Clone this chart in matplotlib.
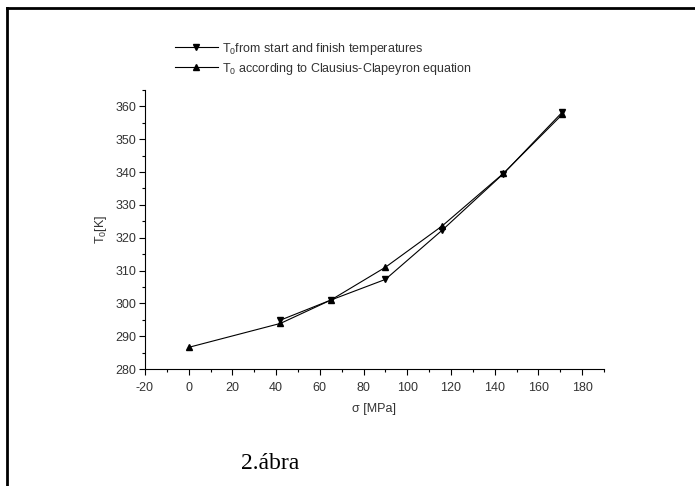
import matplotlib
matplotlib.use("Agg")
import matplotlib.pyplot as plt
from matplotlib.lines import Line2D
from matplotlib.ticker import MultipleLocator

# sigma [MPa] and T0 [K]
sigma_sf = [42, 65, 90, 116, 144, 171]
t0_sf = [294.9, 301.0, 307.3, 322.3, 339.5, 358.3]

sigma_cc = [0, 42, 65, 90, 116, 144, 171]
t0_cc = [286.6, 293.9, 301.0, 311.0, 323.6, 339.6, 357.6]

plt.rcParams['font.family'] = ['Liberation Sans', 'DejaVu Sans']
plt.rcParams['axes.unicode_minus'] = False
plt.rcParams['mathtext.default'] = 'regular'

fig = plt.figure(figsize=(6.95, 4.86), dpi=100)
ax = fig.add_axes([0.2086, 0.2407, 0.6604, 0.5741])

ax.plot(sigma_sf, t0_sf, color='black', lw=0.8, marker='v', ms=4.5,
        label=r'T$_0$from start and finish temperatures')
ax.plot(sigma_cc, t0_cc, color='black', lw=0.8, marker='^', ms=4.5,
        label=r'T$_0$ according to Clausius-Clapeyron equation')

ax.set_xlim(-20, 190)
ax.set_ylim(280, 365)
ax.xaxis.set_major_locator(MultipleLocator(20))
ax.xaxis.set_minor_locator(MultipleLocator(10))
ax.yaxis.set_major_locator(MultipleLocator(10))
ax.yaxis.set_minor_locator(MultipleLocator(5))

for s in ['top', 'right']:
    ax.spines[s].set_visible(False)
for s in ['left', 'bottom']:
    ax.spines[s].set_linewidth(0.8)

ax.tick_params(which='major', direction='out', length=4, width=0.8,
               labelsize=9, colors='black', labelcolor='#333333', pad=2.5)
ax.tick_params(axis='x', which='major', pad=5)
ax.tick_params(which='minor', direction='out', length=2.5, width=0.8)

ax.set_xlabel('\u03c3 [MPa]', fontsize=9, color='#333333', labelpad=7)
ax.set_ylabel(r'T$_0$[K]', fontsize=9, color='#333333', labelpad=4)

leg = ax.legend(loc='upper left', bbox_to_anchor=(0.054, 1.195), frameon=False,
                fontsize=9, handlelength=3.45, handletextpad=0.35,
                labelspacing=0.32, borderaxespad=0)
for t in leg.get_texts():
    t.set_color('#333333')

# caption under the chart
fig.text(270 / 695, 1 - 463 / 486, '2.ábra', ha='center', va='center',
         fontsize=17, family='Liberation Serif')

# frame lines (top and left) like a table cell
fig.add_artist(Line2D([7 / 695, 1], [1 - 8 / 486, 1 - 8 / 486],
                      transform=fig.transFigure, color='black', lw=2))
fig.add_artist(Line2D([7 / 695, 7 / 695], [0, 1 - 8 / 486],
                      transform=fig.transFigure, color='black', lw=2))

fig.savefig('out.png', dpi=100)
